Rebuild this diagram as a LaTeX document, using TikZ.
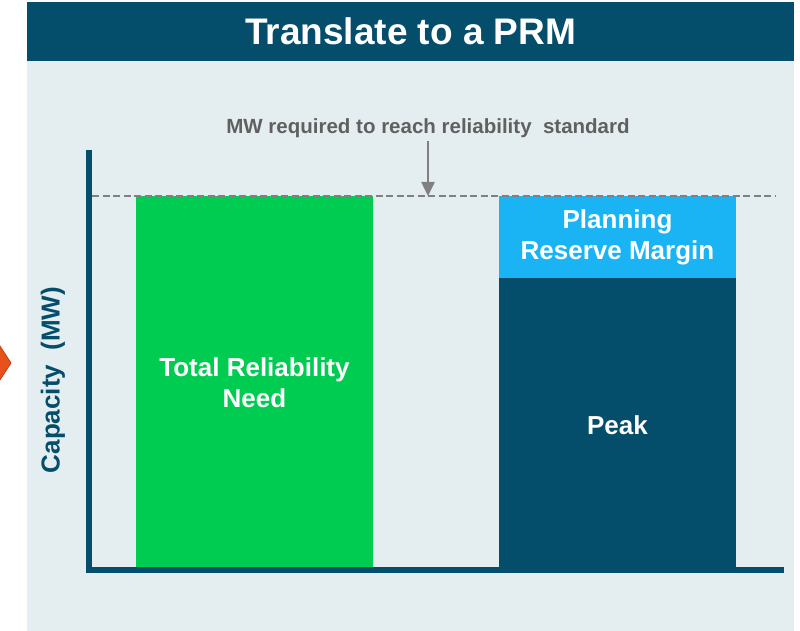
\documentclass[tikz,border=0pt]{standalone}
\usepackage{fontspec}
\setmainfont{Liberation Sans}
\usetikzlibrary{arrows.meta}
\definecolor{tealdark}{HTML}{044E6C}
\definecolor{bglight}{HTML}{E4EDF0}
\definecolor{barGreen}{HTML}{00CC52}
\definecolor{barBlue}{HTML}{1AB4F5}
\definecolor{orangeArr}{HTML}{E8501C}
\definecolor{grayline}{HTML}{808080}
\definecolor{graytext}{HTML}{606060}
\tikzset{
  barlabel/.style={text=white, font=\fontsize{26}{31}\selectfont\bfseries, align=center, inner sep=0pt},
  barbox/.style={draw=none, inner sep=0pt, anchor=north west},
}
\begin{document}
\begin{tikzpicture}[x=1pt,y=-1pt]
\useasboundingbox (0,0) rectangle (800,631);
% orange arrow tip at left
\filldraw[fill=orangeArr, draw=orangeArr!80!black, line width=0.8] (-2,343) -- (11,363) -- (-2,383) -- cycle;
% background panel
\node[barbox, fill=bglight, minimum width=767, minimum height=570] (panel) at (27,61) {};
% header
\node[barbox, fill=tealdark, minimum width=767, minimum height=59, text=white,
      font=\fontsize{37}{40}\selectfont\bfseries] (hdr) at (27,2) {Translate to a PRM};
% bars
\node[barbox, fill=barGreen, minimum width=237, minimum height=371] (trn) at (136,196) {};
\node[barlabel] (trnlbl) at (254.5,383) {Total Reliability\\Need};
\node[barbox, fill=barBlue, minimum width=237, minimum height=82] (prm) at (499,196) {};
\node[barlabel] (prmlbl) at (617.5,237.5) {Planning\\Reserve Margin};
\node[barbox, fill=tealdark, minimum width=237, minimum height=289] (peak) at (499,278) {};
\node[barlabel] (peaklbl) at (617.5,425) {Peak};
% axes
\coordinate (ytop) at (89,150);
\coordinate (origin) at (89,570);
\coordinate (xend) at (784,570);
\draw[tealdark, line width=6, miter limit=10] (ytop) -- (origin) -- (xend);
\node[rotate=90, text=tealdark, font=\fontsize{26}{30}\selectfont\bfseries, inner sep=0pt] (ylbl) at (53,380) {Capacity\ \ (MW)};
% dashed reliability standard line
\coordinate (dl) at (92,196);
\coordinate (dr) at (776,196);
\coordinate (dm) at (428,196);
\draw[grayline, line width=1.8, dash pattern=on 7pt off 3.5pt] (dl) -- (dr);
\node[text=graytext, font=\fontsize{20.5}{24}\selectfont\bfseries, inner sep=0pt] (std) at (428,128) {MW required to reach reliability\ \ standard};
\draw[grayline, line width=2.5, -{Triangle[width=13pt,length=14pt]}] (428,141) -- (dm);
\end{tikzpicture}
\end{document}
